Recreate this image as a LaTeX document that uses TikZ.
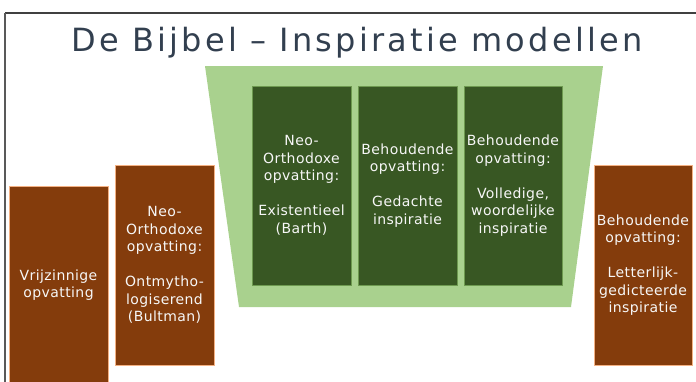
\documentclass[tikz,border=0pt]{standalone}
\usepackage{fontspec}
\setmainfont{DejaVu Sans}
\definecolor{brownbox}{HTML}{843C0C}
\definecolor{brownedge}{HTML}{F4B183}
\definecolor{lightgreen}{HTML}{A9D18E}
\definecolor{darkgreen}{HTML}{385723}
\definecolor{greenedge}{HTML}{6E9A50}
\definecolor{titlecol}{HTML}{323F4F}
\definecolor{boxtext}{HTML}{F7F7F7}
\begin{document}
\begin{tikzpicture}[x=1pt,y=-1pt,
  boxbase/.style={rectangle, inner sep=0pt, align=center, text=boxtext,
    font=\addfontfeature{LetterSpace=3}\fontsize{14}{17.5}\selectfont},
  brownbox/.style={boxbase, fill=brownbox, draw=brownedge, line width=0.6pt},
  greenbox/.style={boxbase, fill=darkgreen, draw=greenedge, line width=0.6pt},
  titlestyle/.style={text=titlecol, inner sep=0pt,
    font=\addfontfeature{LetterSpace=10}\fontsize{32}{36}\selectfont}]
\useasboundingbox (0,0) rectangle (696,381);
\clip (0,0) rectangle (696,381);
% frame
\coordinate (fl) at (5,13);
\coordinate (fr) at (697,13);
\coordinate (fb) at (5,382);
\draw[color=black!75, line width=1.4pt] (fl) -- (fr);
\draw[color=black!65, line width=2pt] (fl) -- (fb);
% title
\node[titlestyle, anchor=base] (title) at (357,51) {De Bijbel – Inspiratie modellen};
% trapezoid
\coordinate (tl) at (205,66);
\coordinate (tr) at (603,66);
\coordinate (br) at (571,307);
\coordinate (bl) at (239,307);
\fill[lightgreen] (tl) -- (tr) -- (br) -- (bl) -- cycle;
% dark green boxes
\node[greenbox, minimum width=99pt, minimum height=199pt] (g1) at (301.5,185.5)
  {Neo-\\Orthodoxe\\opvatting:\\[17.5pt]Existentieel\\(Barth)};
\node[greenbox, minimum width=99pt, minimum height=199pt] (g2) at (407.5,185.5)
  {Behoudende\\opvatting:\\[17.5pt]Gedachte\\inspiratie};
\node[greenbox, minimum width=98pt, minimum height=199pt] (g3) at (513,185.5)
  {Behoudende\\opvatting:\\[17.5pt]Volledige,\\woordelijke\\inspiratie};
% brown boxes
\node[brownbox, minimum width=99pt, minimum height=198pt] (b1) at (58.5,285)
  {Vrijzinnige\\opvatting};
\node[brownbox, minimum width=99pt, minimum height=200pt] (b2) at (164.5,265)
  {Neo-\\Orthodoxe\\opvatting:\\[17.5pt]Ontmytho-\\logiserend\\(Bultman)};
\node[brownbox, minimum width=98pt, minimum height=200pt] (b3) at (643,265)
  {Behoudende\\opvatting:\\[17.5pt]Letterlijk-\\gedicteerde\\inspiratie};
\end{tikzpicture}
\end{document}
